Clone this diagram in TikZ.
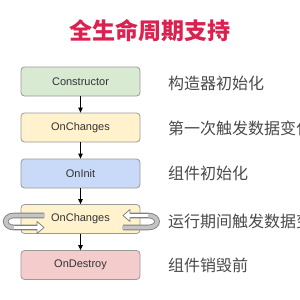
\documentclass[tikz,border=0pt]{standalone}
\usepackage{fontspec}
\setmainfont{Liberation Sans}
\newfontfamily\cjk{Noto Sans CJK SC}
\usetikzlibrary{arrows.meta}
\definecolor{titlered}{HTML}{DB2150}
\definecolor{bgreen}{HTML}{D9EAD3}
\definecolor{byellow}{HTML}{FFF2CC}
\definecolor{bblue}{HTML}{C9DAF8}
\definecolor{bpink}{HTML}{F4CCCC}
\definecolor{bborder}{HTML}{9A9A9A}
\definecolor{btext}{HTML}{333333}
\definecolor{rtext}{HTML}{4A4A4A}
\definecolor{ringout}{HTML}{808080}
\definecolor{ringin}{HTML}{C4C4C4}
\tikzset{
  stagebox/.style={draw=bborder, line width=0.8pt, rounded corners=3.5pt,
    minimum width=119pt, minimum height=29pt, inner sep=0pt,
    font=\fontsize{11}{12}\selectfont, text=btext},
  desc/.style={anchor=west, inner sep=0pt, text=rtext,
    font=\cjk\fontsize{16}{18}\selectfont},
  flow/.style={-{Triangle[length=5pt,width=4.5pt]}, line width=0.8pt, black},
  ringedge/.style={line width=5.6pt, ringout},
  ringback/.style={line width=3.8pt, ringin},
  ringfront/.style={line width=3.8pt, white},
  ringtip/.style={fill=white, draw=ringout, line width=0.8pt, line join=round}
}
\begin{document}
\begin{tikzpicture}[x=1pt,y=-1pt]
\useasboundingbox[fill=white] (0,0) rectangle (300,300);

\node[inner sep=0pt, text=titlered, font=\cjk\bfseries\fontsize{23}{26}\selectfont] (title) at (150,31) {全生命周期支持};

\node[stagebox, fill=bgreen]  (b1) at (80.5,81.5) {Constructor};
\node[stagebox, fill=byellow] (b2) at (80.5,127.5) {OnChanges};
\node[stagebox, fill=bblue]   (b3) at (80.5,173.5) {OnInit};
\node[stagebox, fill=byellow] (b4) at (80.5,219) {OnChanges};
\node[stagebox, fill=bpink]   (b5) at (80.5,265) {OnDestroy};

\draw[flow] (b1) -- (b2);
\draw[flow] (b2) -- (b3);
\draw[flow] (b3) -- (b4);
\draw[flow] (b4) -- (b5);

% left ring
\draw[ringedge] (44,215.5) -- (14,215.5) .. controls (3,215.5) and (3,227.5) .. (14,227.5) -- (38,227.5);
\draw[ringback] (44.9,215.5) -- (14,215.5) .. controls (3,215.5) and (3,227.5) .. (14,227.5);
\draw[ringfront] (14,227.5) -- (38.5,227.5);
\draw[ringtip] (37,221.5) -- (44,227.5) -- (37,233.5) -- cycle;
\draw[ringfront, line width=3.6pt] (33,227.5) -- (37.6,227.5);

% right ring
\draw[ringedge] (123,227.5) -- (148,227.5) .. controls (160,227.5) and (160,215.5) .. (148,215.5) -- (129,215.5);
\draw[ringback] (122.1,227.5) -- (148,227.5) .. controls (160,227.5) and (160,215.5) .. (148,215.5);
\draw[ringfront] (148,215.5) -- (129.5,215.5);
\draw[ringtip] (130,209.5) -- (123,215.5) -- (130,221.5) -- cycle;
\draw[ringfront, line width=3.6pt] (134,215.5) -- (129.4,215.5);

\node[desc] (d1) at (168,83) {构造器初始化};
\node[desc] (d2) at (168,128) {第一次触发数据变化};
\node[desc] (d3) at (168,173) {组件初始化};
\node[desc] (d4) at (168,221.5) {运行期间触发数据变化};
\node[desc] (d5) at (168,265) {组件销毁前};
\end{tikzpicture}
\end{document}
